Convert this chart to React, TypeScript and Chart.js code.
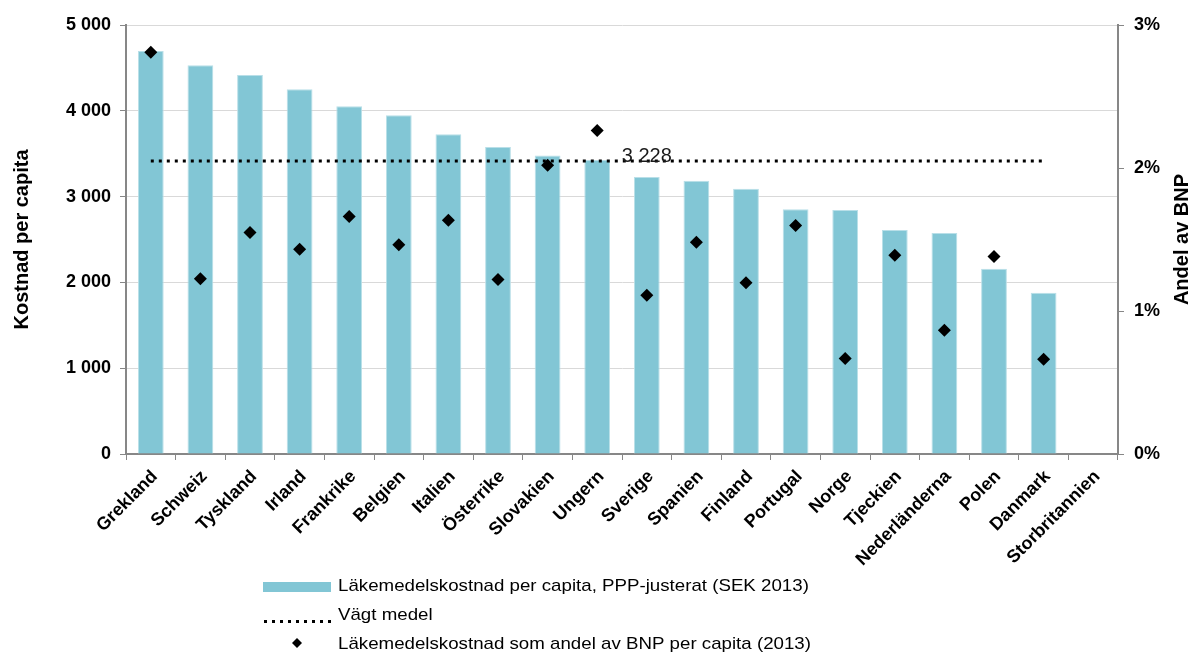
import React, { useEffect, useRef } from 'react';
import { Chart, registerables } from 'chart.js';

Chart.register(...registerables);

const categories = [
  'Grekland', 'Schweiz', 'Tyskland', 'Irland', 'Frankrike', 'Belgien', 'Italien', 'Österrike',
  'Slovakien', 'Ungern', 'Sverige', 'Spanien', 'Finland', 'Portugal', 'Norge', 'Tjeckien',
  'Nederländerna', 'Polen', 'Danmark', 'Storbritannien',
];

const costPerCapita = [
  4697, 4531, 4418, 4252, 4053, 3948, 3726, 3579, 3478, 3428,
  3228, 3186, 3092, 2852, 2845, 2612, 2577, 2158, 1878, null,
];

const shareOfGdp = [
  2.81, 1.225, 1.549, 1.432, 1.661, 1.463, 1.635, 1.22, 2.02, 2.262,
  1.11, 1.481, 1.197, 1.598, 0.667, 1.39, 0.865, 1.381, 0.662, null,
];

const weightedMean = [
  3415, 3415, 3415, 3415, 3415, 3415, 3415, 3415, 3415, 3415,
  3415, 3415, 3415, 3415, 3415, 3415, 3415, 3415, 3415, null,
];

const meanLabel = '3 228';
const meanLabelIndex = 10;

const leftTitle = 'Kostnad per capita';
const rightTitle = 'Andel av BNP';

const legendLabels = [
  'Läkemedelskostnad per capita, PPP-justerat (SEK 2013)',
  'Vägt medel',
  'Läkemedelskostnad som andel av BNP per capita (2013)',
];

const BAR_COLOR = '#82C6D5';
const AXIS_COLOR = '#878787';
const FONT = '"Liberation Sans", Arial, sans-serif';

const fmtThousands = (v: number) => String(v).replace(/\B(?=(\d{3})+(?!\d))/g, ' ');

const overlayPlugin = {
  id: 'overlay',
  afterDraw(chart: any) {
    const ctx = chart.ctx as CanvasRenderingContext2D;
    const { chartArea, scales } = chart;
    const midY = (chartArea.top + chartArea.bottom) / 2;
    ctx.save();
    ctx.fillStyle = '#000';

    // axis titles
    ctx.font = `bold 20px ${FONT}`;
    ctx.textAlign = 'center';
    ctx.textBaseline = 'alphabetic';
    ctx.save();
    ctx.translate(28, midY);
    ctx.rotate(-Math.PI / 2);
    ctx.fillText(leftTitle, 0, 0);
    ctx.restore();
    ctx.save();
    ctx.translate(1188, midY);
    ctx.rotate(-Math.PI / 2);
    ctx.fillText(rightTitle, 0, 0);
    ctx.restore();

    // mean label
    const mx = scales.x.getPixelForValue(meanLabelIndex);
    const my = scales.y.getPixelForValue(weightedMean[meanLabelIndex] as number);
    ctx.font = `20px ${FONT}`;
    ctx.fillStyle = '#1a1a1a';
    ctx.textAlign = 'center';
    ctx.textBaseline = 'alphabetic';
    ctx.fillText(meanLabel, mx, my + 1);

    // legend
    const sx = 263;
    const sw = 68;
    const tx = 338;
    const rows = [586, 615, 644];

    ctx.fillStyle = BAR_COLOR;
    ctx.fillRect(sx, 582, sw, 10);

    ctx.fillStyle = '#000';
    for (let x = sx + 1; x < sx + sw; x += 8) {
      ctx.fillRect(x, 620, 3, 3);
    }

    const dx = sx + sw / 2;
    const dy = 643;
    ctx.beginPath();
    ctx.moveTo(dx, dy - 5);
    ctx.lineTo(dx + 5, dy);
    ctx.lineTo(dx, dy + 5);
    ctx.lineTo(dx - 5, dy);
    ctx.closePath();
    ctx.fill();

    ctx.font = `17px ${FONT}`;
    ctx.textAlign = 'left';
    ctx.textBaseline = 'middle';
    legendLabels.forEach((t, i) => {
      ctx.save();
      ctx.translate(tx, rows[i]);
      ctx.scale(1.1, 1);
      ctx.fillText(t, 0, 0);
      ctx.restore();
    });
    ctx.restore();
  },
};

function ChartView() {
  const ref = useRef<HTMLCanvasElement | null>(null);

  useEffect(() => {
    document.body.style.margin = '0';
    if (!ref.current) return;
    const chart = new Chart(ref.current, {
      type: 'bar',
      data: {
        labels: categories,
        datasets: [
          {
            type: 'line',
            label: legendLabels[2],
            data: shareOfGdp as any,
            yAxisID: 'y1',
            showLine: false,
            pointStyle: 'rectRot',
            pointRadius: 6.5,
            pointBackgroundColor: '#000',
            pointBorderColor: '#000',
            pointBorderWidth: 0,
            order: 0,
          } as any,
          {
            type: 'line',
            label: legendLabels[1],
            data: weightedMean as any,
            yAxisID: 'y',
            borderColor: '#000',
            borderWidth: 3,
            borderDash: [3, 5],
            pointRadius: 0,
            fill: false,
            spanGaps: false,
            order: 1,
          } as any,
          {
            type: 'bar',
            label: legendLabels[0],
            data: costPerCapita as any,
            yAxisID: 'y',
            backgroundColor: BAR_COLOR,
            borderColor: '#B9DFE8',
            borderWidth: 1,
            categoryPercentage: 1,
            barPercentage: 0.52,
            order: 2,
          } as any,
        ],
      },
      options: {
        animation: false,
        responsive: false,
        maintainAspectRatio: false,
        layout: { padding: { top: 25, left: 0, right: 0, bottom: 0 } },
        plugins: {
          legend: { display: false },
          tooltip: { enabled: false },
        },
        scales: {
          x: {
            afterFit: (s: any) => { s.height = 199; },
            grid: {
              drawOnChartArea: false,
              offset: true,
              tickLength: 6,
              color: AXIS_COLOR,
              tickColor: AXIS_COLOR,
            },
            border: { color: AXIS_COLOR, width: 2 },
            ticks: {
              color: '#000',
              font: { family: FONT, size: 18, weight: 'bold' },
              maxRotation: 45,
              minRotation: 45,
              autoSkip: false,
              padding: 6,
              labelOffset: 4,
            },
          },
          y: {
            position: 'left',
            min: 0,
            max: 5000,
            afterFit: (s: any) => { s.width = 126; },
            grid: {
              color: '#D9D9D9',
              tickColor: AXIS_COLOR,
              tickLength: 6,
              lineWidth: 1,
            },
            border: { color: AXIS_COLOR, width: 2 },
            ticks: {
              stepSize: 1000,
              color: '#000',
              padding: 9,
              font: { family: FONT, size: 18, weight: 'bold' },
              callback: (v: any) => fmtThousands(Number(v)),
            },
          },
          y1: {
            position: 'right',
            min: 0,
            max: 3,
            afterFit: (s: any) => { s.width = 74; },
            grid: {
              drawOnChartArea: false,
              tickColor: AXIS_COLOR,
              tickLength: 6,
            },
            border: { color: AXIS_COLOR, width: 2 },
            ticks: {
              stepSize: 1,
              color: '#000',
              padding: 10,
              font: { family: FONT, size: 18, weight: 'bold' },
              callback: (v: any) => `${v}%`,
            },
          },
        },
      },
      plugins: [overlayPlugin],
    } as any);
    return () => chart.destroy();
  }, []);

  return (
    <div style={{ width: 1192, height: 653, position: 'relative' }}>
      <canvas ref={ref} width={1192} height={653} style={{ display: 'block' }} />
    </div>
  );
}

export default function App() {
  return <ChartView />;
}
